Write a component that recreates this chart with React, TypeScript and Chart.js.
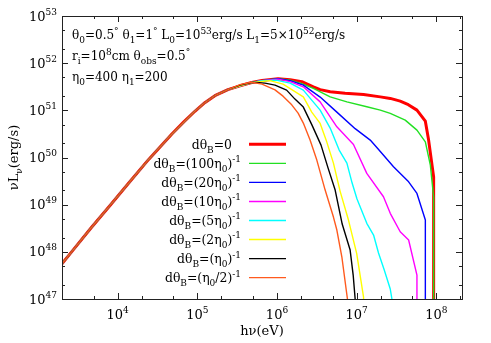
import React, { useEffect, useRef } from 'react';
import { Chart, registerables } from 'chart.js';
Chart.register(...registerables);

const FONT = '"DejaVu Serif", serif';

// shared low-energy rise (all curves)
const riseHv = [2.0e3, 2.64e3, 4.65e3, 8.16e3, 1.41e4, 2.45e4, 4.79e4, 6.76e4, 9.31e4, 1.24e5, 1.66e5, 2.42e5];
const riseL = [5.6e47, 1.0e48, 3.24e48, 1.0e49, 3.02e49, 9.12e49, 3.16e50, 5.69e50, 9.55e50, 1.45e51, 2.04e51, 2.75e51];

const redHv = [3.43e5, 4.81e5, 6.48e5, 1.03e6, 1.46e6, 2.05e6, 2.86e6, 3.48e6, 4.65e6, 7.16e6, 1.22e7, 1.98e7, 2.64e7, 3.52e7, 4.45e7, 5.71e7, 7.28e7, 8.0e7, 9.25e7, 9.25e7];
const redL = [3.31e51, 3.89e51, 4.27e51, 4.70e51, 4.47e51, 4.06e51, 3.15e51, 2.75e51, 2.47e51, 2.31e51, 2.17e51, 1.93e51, 1.79e51, 1.57e51, 1.32e51, 1.01e51, 5.9e50, 2.34e50, 3.85e49, 1e46];

const greenHv = [3.43e5, 4.81e5, 6.48e5, 1.03e6, 1.46e6, 2.05e6, 2.86e6, 4.65e6, 7.54e6, 1.34e7, 1.98e7, 2.64e7, 4.07e7, 5.71e7, 7.28e7, 8.41e7, 9.25e7, 9.25e7];
const greenL = [3.31e51, 3.89e51, 4.27e51, 4.70e51, 4.37e51, 3.68e51, 2.91e51, 1.93e51, 1.51e51, 1.19e51, 1.01e51, 8.59e50, 6.19e50, 3.81e50, 2.15e50, 6.9e49, 1.45e49, 1e46];

const blueHv = [3.43e5, 4.81e5, 6.48e5, 1.03e6, 1.46e6, 2.14e6, 3.48e6, 5.64e6, 9.57e6, 1.48e7, 1.86e7, 2.90e7, 4.49e7, 5.71e7, 7.28e7, 7.28e7];
const blueL = [3.31e51, 3.89e51, 4.27e51, 4.70e51, 4.26e51, 3.42e51, 1.91e51, 9.17e50, 4.09e50, 2.34e50, 1.51e50, 6.35e49, 3.05e49, 1.73e49, 4.72e48, 1e46];

const magentaHv = [3.43e5, 4.81e5, 6.48e5, 1.03e6, 1.46e6, 2.14e6, 3.48e6, 5.64e6, 9.12e6, 1.34e7, 2.17e7, 2.64e7, 3.52e7, 4.49e7, 5.71e7, 5.71e7];
const magentaL = [3.31e51, 3.89e51, 4.27e51, 4.58e51, 4.06e51, 3.15e51, 1.51e51, 4.47e50, 1.88e50, 4.6e49, 1.47e49, 6.55e48, 2.67e48, 1.78e48, 3.22e47, 1e46];

const cyanHv = [3.43e5, 4.81e5, 6.48e5, 9.7e5, 1.46e6, 2.14e6, 3.48e6, 4.65e6, 6.03e6, 7.54e6, 8.77e6, 1.01e7, 1.34e7, 1.63e7, 1.88e7, 2.22e7, 2.64e7, 2.77e7, 2.77e7];
const cyanL = [3.31e51, 3.89e51, 4.27e51, 4.37e51, 3.77e51, 2.68e51, 1.01e51, 4.2e50, 1.44e50, 7.6e49, 2.87e49, 1.32e49, 4.02e48, 2.27e48, 9.44e47, 4.11e47, 1.63e47, 1e47, 1e46];

const yellowHv = [3.43e5, 4.81e5, 8.17e5, 1.19e6, 2.14e6, 2.73e6, 3.48e6, 4.22e6, 5.11e6, 6.19e6, 7.89e6, 1.0e7, 1.22e7, 1.22e7];
const yellowL = [3.31e51, 3.89e51, 4.26e51, 3.59e51, 1.93e51, 9.17e50, 5.27e50, 2.12e50, 7.6e49, 1.94e49, 4.72e48, 9.29e47, 1.1e47, 1e46];

const blackHv = [3.43e5, 4.99e5, 7.06e5, 9.44e5, 1.32e6, 1.68e6, 2.14e6, 2.75e6, 3.57e6, 4.38e6, 5.37e6, 6.58e6, 8.28e6, 9.04e6, 9.57e6, 9.57e6];
const blackL = [3.42e51, 3.95e51, 3.77e51, 3.42e51, 2.68e51, 1.73e51, 1.17e51, 4.85e50, 1.83e50, 5.96e49, 2.04e49, 3.88e48, 1.09e48, 3.22e47, 1e47, 1e46];

const orangeHv = [3.43e5, 4.81e5, 6.48e5, 9.44e5, 1.19e6, 1.53e6, 1.84e6, 2.14e6, 2.60e6, 3.16e6, 4.02e6, 5.11e6, 5.64e6, 6.52e6, 7.66e6, 7.66e6];
const orangeL = [3.51e51, 3.95e51, 3.59e51, 2.72e51, 2.0e51, 1.31e51, 8.73e50, 5.36e50, 2.34e50, 8.81e49, 2.04e49, 5.46e48, 2.90e48, 7.76e47, 1e47, 1e46];

const xMajorExps = [4, 5, 6, 7, 8];
const yMajorExps = [47, 48, 49, 50, 51, 52, 53];
const minorMults = [2, 5];

type Seg = [string, number]; // 0 normal, 1 subscript, 2 superscript

const legendLabels: Seg[][] = [
  [['dθ', 0], ['B', 1], ['=0', 0]],
  [['dθ', 0], ['B', 1], ['=(100η', 0], ['0', 1], [')', 0], ['-1', 2]],
  [['dθ', 0], ['B', 1], ['=(20η', 0], ['0', 1], [')', 0], ['-1', 2]],
  [['dθ', 0], ['B', 1], ['=(10η', 0], ['0', 1], [')', 0], ['-1', 2]],
  [['dθ', 0], ['B', 1], ['=(5η', 0], ['0', 1], [')', 0], ['-1', 2]],
  [['dθ', 0], ['B', 1], ['=(2η', 0], ['0', 1], [')', 0], ['-1', 2]],
  [['dθ', 0], ['B', 1], ['=(η', 0], ['0', 1], [')', 0], ['-1', 2]],
  [['dθ', 0], ['B', 1], ['=(η', 0], ['0', 1], ['/2)', 0], ['-1', 2]],
];

const annotationLines: Seg[][] = [
  [['θ', 0], ['0', 1], ['=0.5', 0], ['°', 2], [' θ', 0], ['1', 1], ['=1', 0], ['°', 2], [' L', 0], ['0', 1], ['=10', 0], ['53', 2], ['erg/s L', 0], ['1', 1], ['=5×10', 0], ['52', 2], ['erg/s', 0]],
  [['r', 0], ['i', 1], ['=10', 0], ['8', 2], ['cm θ', 0], ['obs', 1], ['=0.5', 0], ['°', 2]],
  [['η', 0], ['0', 1], ['=400 η', 0], ['1', 1], ['=200', 0]],
];

const seriesHv = [redHv, greenHv, blueHv, magentaHv, cyanHv, yellowHv, blackHv, orangeHv];
const seriesL = [redL, greenL, blueL, magentaL, cyanL, yellowL, blackL, orangeL];
const seriesColors = ['#ff0000', '#22e022', '#0000ff', '#ff00ff', '#00ffff', '#ffff00', '#000000', '#ff5a1e'];
const seriesWidths = [3, 1.4, 1.4, 1.4, 1.4, 1.4, 1.4, 1.4];

function drawRich(ctx: CanvasRenderingContext2D, segs: Seg[], x: number, y: number, align: string, size: number) {
  const small = Math.round(size * 0.72);
  const widths = segs.map(([t, m]) => {
    ctx.font = `${m ? small : size}px ${FONT}`;
    return ctx.measureText(t).width;
  });
  const total = widths.reduce((a, b) => a + b, 0);
  let cx = align === 'left' ? x : align === 'right' ? x - total : x - total / 2;
  ctx.textAlign = 'left';
  ctx.textBaseline = 'alphabetic';
  segs.forEach(([t, m], i) => {
    ctx.font = `${m ? small : size}px ${FONT}`;
    const dy = m === 1 ? size * 0.3 : m === 2 ? -size * 0.45 : 0;
    ctx.fillText(t, cx, y + dy);
    cx += widths[i];
  });
}

const decorPlugin = {
  id: 'decor',
  afterDraw(chart: any) {
    const ctx: CanvasRenderingContext2D = chart.ctx;
    const { left, right, top, bottom } = chart.chartArea;
    const xs = chart.scales.x;
    const ys = chart.scales.y;
    ctx.save();
    ctx.fillStyle = '#000';
    ctx.strokeStyle = '#222';
    ctx.lineWidth = 1;
    const xTicks: [number, number][] = [];
    for (let e = 3; e <= 8; e++) {
      xTicks.push([Math.pow(10, e), 6]);
      minorMults.forEach((m) => xTicks.push([m * Math.pow(10, e), 3]));
    }
    ctx.beginPath();
    xTicks.forEach(([v, len]) => {
      if (v < xs.min || v > xs.max) return;
      const px = Math.round(xs.getPixelForValue(v)) + 0.5;
      ctx.moveTo(px, bottom);
      ctx.lineTo(px, bottom - len);
      ctx.moveTo(px, top);
      ctx.lineTo(px, top + len);
    });
    const yTicks: [number, number][] = [];
    for (let e = 47; e <= 53; e++) {
      yTicks.push([Math.pow(10, e), 6]);
      if (e < 53) minorMults.forEach((m) => yTicks.push([m * Math.pow(10, e), 3]));
    }
    yTicks.forEach(([v, len]) => {
      const py = Math.round(ys.getPixelForValue(v)) + 0.5;
      ctx.moveTo(left, py);
      ctx.lineTo(left + len, py);
      ctx.moveTo(right, py);
      ctx.lineTo(right - len, py);
    });
    ctx.stroke();
    ctx.strokeRect(Math.round(left) + 0.5, Math.round(top) + 0.5, Math.round(right - left), Math.round(bottom - top));

    xMajorExps.forEach((e) => {
      const px = xs.getPixelForValue(Math.pow(10, e));
      drawRich(ctx, [['10', 0], [String(e), 2]], px, bottom + 20, 'center', 13);
    });
    yMajorExps.forEach((e) => {
      const py = ys.getPixelForValue(Math.pow(10, e));
      drawRich(ctx, [['10', 0], [String(e), 2]], left - 5, py + 4.5, 'right', 13);
    });

    drawRich(ctx, [['hν(eV)', 0]], (left + right) / 2, 335, 'center', 13);
    ctx.save();
    ctx.translate(18, (top + bottom) / 2);
    ctx.rotate(-Math.PI / 2);
    drawRich(ctx, [['νL', 0], ['ν', 1], ['(erg/s)', 0]], 0, 0, 'center', 13);
    ctx.restore();

    annotationLines.forEach((segs, i) => {
      drawRich(ctx, segs, left + 10, top + 23 + i * 21, 'left', 12);
    });

    legendLabels.forEach((segs, i) => {
      const cy = 144.3 + i * 19.05;
      drawRich(ctx, segs, i === 0 ? 232 : 241, cy + 4.5, 'right', 12.4);
      ctx.beginPath();
      ctx.strokeStyle = seriesColors[i];
      ctx.lineWidth = seriesWidths[i];
      ctx.moveTo(249, cy);
      ctx.lineTo(286, cy);
      ctx.stroke();
    });
    ctx.restore();
  },
};

export default function App() {
  const ref = useRef<HTMLCanvasElement>(null);
  useEffect(() => {
    if (!ref.current) return;
    const datasets = seriesHv.map((hv, i) => {
      const xs = riseHv.concat(hv);
      const ysv = riseL.concat(seriesL[i]);
      return {
        data: xs.map((x, k) => ({ x, y: ysv[k] })),
        borderColor: seriesColors[i],
        borderWidth: seriesWidths[i],
        pointRadius: 0,
        fill: false,
        tension: 0,
        borderJoinStyle: 'round' as const,
        clip: 0,
        order: 7 - i,
      };
    });
    const chart = new Chart(ref.current, {
      type: 'line',
      data: { datasets },
      options: {
        animation: false,
        responsive: false,
        layout: { padding: { left: 0, right: 29, top: 16, bottom: 0 } },
        plugins: { legend: { display: false }, tooltip: { enabled: false } },
        scales: {
          x: {
            type: 'logarithmic',
            min: 2000,
            max: 2.1e8,
            ticks: { display: false },
            grid: { display: false },
            border: { display: false },
            afterFit: (s: any) => { s.height = 44; },
          },
          y: {
            type: 'logarithmic',
            min: 1e47,
            max: 1e53,
            ticks: { display: false },
            grid: { display: false },
            border: { display: false },
            afterFit: (s: any) => { s.width = 62; },
          },
        },
      },
      plugins: [decorPlugin],
    } as any);
    return () => chart.destroy();
  }, []);
  return (
    <div style={{ position: 'absolute', left: 0, top: 0, width: 491, height: 343, background: '#fff' }}>
      <canvas ref={ref} width={491} height={343} style={{ display: 'block' }} />
    </div>
  );
}
